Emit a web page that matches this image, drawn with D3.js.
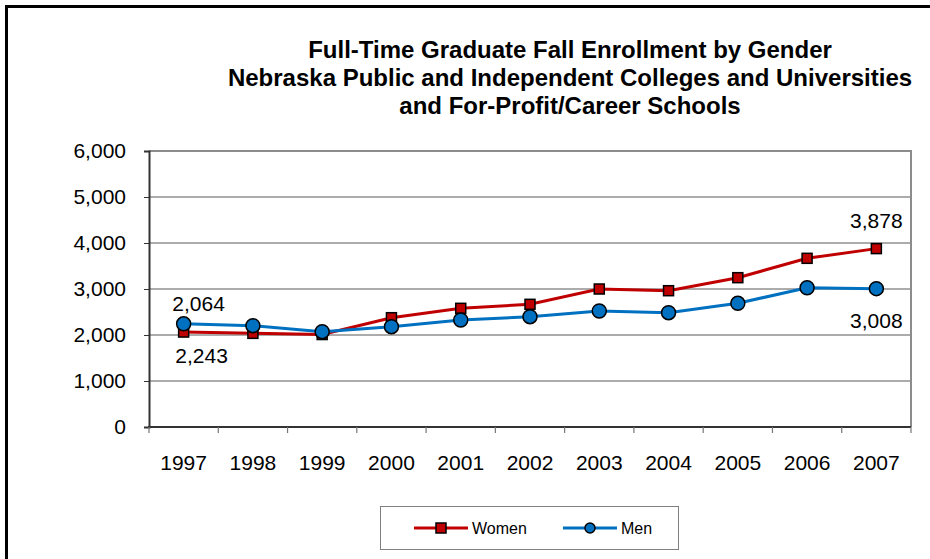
<!DOCTYPE html>
<html lang="en">
<head>
<meta charset="utf-8">
<title>Graduate Enrollment by Gender</title>
<script src="https://cdn.jsdelivr.net/npm/d3@7"></script>
<style>
  body { margin: 0; background: #fff; }
  text { font-family: "Liberation Sans", Arial, sans-serif; fill: #000; }
</style>
</head>
<body>
<script>
// data
var years = ["1997","1998","1999","2000","2001","2002","2003","2004","2005","2006","2007"];
var women = [2064, 2036, 2010, 2376, 2580, 2667, 3000, 2963, 3246, 3667, 3878];
var men   = [2243, 2203, 2072, 2181, 2326, 2398, 2522, 2485, 2689, 3028, 3008];
var yTicks = [0, 1000, 2000, 3000, 4000, 5000, 6000];
var titleLines = [
  "Full-Time Graduate Fall Enrollment by Gender",
  "Nebraska Public and Independent Colleges and Universities",
  "and For-Profit/Career Schools"
];

var W = 930, H = 559;
var plot = {left: 149, right: 911, top: 151, bottom: 427};

var svg = d3.select("body").append("svg")
  .attr("width", W).attr("height", H);

svg.append("rect").attr("width", W).attr("height", H).attr("fill", "#fff");

// outer frame (right / bottom edges run off the picture)
svg.append("rect")
  .attr("x", 6.5).attr("y", 6.5)
  .attr("width", 1000).attr("height", 1000)
  .attr("fill", "none").attr("stroke", "#000").attr("stroke-width", 3);

// title
svg.append("g").selectAll("text")
  .data(titleLines)
  .enter().append("text")
  .attr("x", 570)
  .attr("y", function(d, i){ return 58 + i * 28; })
  .attr("text-anchor", "middle")
  .attr("font-size", "24px")
  .attr("font-weight", "bold")
  .text(function(d){ return d; });

var x = d3.scaleBand().domain(years).range([plot.left, plot.right]);
var y = d3.scaleLinear().domain([0, 6000]).range([plot.bottom, plot.top]);
var cx = function(i){ return x(years[i]) + x.bandwidth() / 2; };

// gridlines
svg.append("g").selectAll("line")
  .data(yTicks.slice(1, -1))
  .enter().append("line")
  .attr("x1", plot.left).attr("x2", plot.right)
  .attr("y1", function(d){ return y(d); }).attr("y2", function(d){ return y(d); })
  .attr("stroke", "#595959").attr("stroke-width", 1);

// plot frame top / right
svg.append("path")
  .attr("d", "M" + plot.left + "," + plot.top + "H" + plot.right + "V" + plot.bottom)
  .attr("fill", "none").attr("stroke", "#8c8c8c").attr("stroke-width", 2);

// y axis
var yAxis = svg.append("g")
  .attr("transform", "translate(" + plot.left + ",0)")
  .call(d3.axisLeft(y).tickValues(yTicks).tickSize(5).tickPadding(18)
        .tickFormat(d3.format(",")));
yAxis.select(".domain").attr("stroke", "#333").attr("stroke-width", 2);
yAxis.selectAll(".tick line").attr("stroke", "#333");
yAxis.selectAll("text").attr("font-size", "21px").attr("font-family", null).attr("fill", "#000");

// x axis: ticks on the band edges
var xAxisG = svg.append("g");
xAxisG.append("line")
  .attr("x1", plot.left - 1).attr("x2", plot.right)
  .attr("y1", plot.bottom).attr("y2", plot.bottom)
  .attr("stroke", "#333").attr("stroke-width", 2);
xAxisG.selectAll("line.tk")
  .data(years.concat(["end"]))
  .enter().append("line").attr("class", "tk")
  .attr("x1", function(d, i){ return plot.left + i * x.bandwidth(); })
  .attr("x2", function(d, i){ return plot.left + i * x.bandwidth(); })
  .attr("y1", plot.bottom).attr("y2", plot.bottom + 6)
  .attr("stroke", "#777").attr("stroke-width", 1.2);
xAxisG.selectAll("text")
  .data(years)
  .enter().append("text")
  .attr("x", function(d, i){ return cx(i); })
  .attr("y", 470)
  .attr("text-anchor", "middle")
  .attr("font-size", "21px")
  .text(function(d){ return d; });

var line = d3.line()
  .x(function(d, i){ return cx(i); })
  .y(function(d){ return y(d); });

// women series
svg.append("path").datum(women)
  .attr("d", line).attr("fill", "none")
  .attr("stroke", "#c00000").attr("stroke-width", 3);
svg.append("g").selectAll("rect")
  .data(women)
  .enter().append("rect")
  .attr("x", function(d, i){ return cx(i) - 5; })
  .attr("y", function(d){ return y(d) - 5; })
  .attr("width", 10).attr("height", 10)
  .attr("fill", "#c00000").attr("stroke", "#000").attr("stroke-width", 1.5);

// men series
svg.append("path").datum(men)
  .attr("d", line).attr("fill", "none")
  .attr("stroke", "#0070c0").attr("stroke-width", 3);
svg.append("g").selectAll("circle")
  .data(men)
  .enter().append("circle")
  .attr("cx", function(d, i){ return cx(i); })
  .attr("cy", function(d){ return y(d); })
  .attr("r", 7)
  .attr("fill", "#0070c0").attr("stroke", "#000").attr("stroke-width", 1.5);

// data labels (as printed on the original, first pair swapped)
var fmt = d3.format(",");
var labels = [
  {i: 0, text: fmt(women[0]), at: women[0], dy: -21, dx: 15},
  {i: 0, text: fmt(men[0]),   at: men[0],   dy: 39,  dx: 18},
  {i: 10, text: fmt(women[10]), at: women[10], dy: -21, dx: 0},
  {i: 10, text: fmt(men[10]),   at: men[10],   dy: 39,  dx: 0}
];
svg.append("g").selectAll("text")
  .data(labels)
  .enter().append("text")
  .attr("x", function(d){ return cx(d.i) + d.dx; })
  .attr("y", function(d){ return y(d.at) + d.dy; })
  .attr("text-anchor", "middle")
  .attr("font-size", "21px")
  .text(function(d){ return d.text; });

// legend
var lg = svg.append("g");
lg.append("rect")
  .attr("x", 380.5).attr("y", 506.5).attr("width", 298).attr("height", 43)
  .attr("fill", "#fff").attr("stroke", "#7f7f7f").attr("stroke-width", 1);
var legendItems = [
  {name: "Women", color: "#c00000", shape: "square", x: 414},
  {name: "Men", color: "#0070c0", shape: "circle", x: 563}
];
legendItems.forEach(function(it){
  var ly = 528;
  lg.append("line")
    .attr("x1", it.x).attr("x2", it.x + 54).attr("y1", ly).attr("y2", ly)
    .attr("stroke", it.color).attr("stroke-width", 3);
  if (it.shape === "square") {
    lg.append("rect").attr("x", it.x + 27 - 5).attr("y", ly - 5)
      .attr("width", 10).attr("height", 10)
      .attr("fill", it.color).attr("stroke", "#000").attr("stroke-width", 1.5);
  } else {
    lg.append("circle").attr("cx", it.x + 27).attr("cy", ly).attr("r", 5)
      .attr("fill", it.color).attr("stroke", "#000").attr("stroke-width", 1.5);
  }
  lg.append("text")
    .attr("x", it.x + 58).attr("y", ly + 6)
    .attr("font-size", "16px")
    .text(it.name);
});
</script>
</body>
</html>
